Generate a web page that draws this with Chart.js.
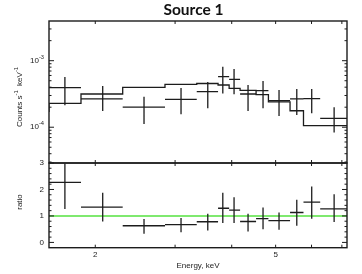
<!DOCTYPE html>
<html>
<head>
<meta charset="utf-8">
<script src="https://cdn.jsdelivr.net/npm/chart.js@4.4.1/dist/chart.umd.min.js"></script>
<style>
  html, body { margin: 0; padding: 0; background: #fff; }
  #wrap { position: relative; width: 362px; height: 274px; overflow: hidden; }
  #wrap canvas { position: absolute; left: 0; }
  #spec { top: 0; }
  #ratio { top: 150px; }
</style>
</head>
<body>
<div id="wrap">
  <canvas id="spec" width="362" height="165"></canvas>
  <canvas id="ratio" width="362" height="124"></canvas>
</div>
<script>
// ── Data ──
const energyEdges   = [1.581, 1.860, 2.299, 2.850, 3.349, 3.732, 3.948, 4.174, 4.527, 4.82, 5.38, 5.76, 6.27, 7.185];
const energyCentres = [1.714, 2.077, 2.562, 3.092, 3.542, 3.823, 4.048, 4.346, 4.69, 5.087, 5.567, 6.006, 6.73];

const countRate   = [3.93e-4, 2.66e-4, 2.0e-4, 2.63e-4, 3.42e-4, 5.75e-4, 5.25e-4, 3.16e-4, 3.55e-4, 2.51e-4, 2.66e-4, 2.69e-4, 1.36e-4];
const countRateHi = [5.68e-4, 4.17e-4, 2.88e-4, 3.89e-4, 4.79e-4, 8.13e-4, 7.5e-4, 4.32e-4, 4.95e-4, 3.63e-4, 3.76e-4, 3.76e-4, 2.0e-4];
const countRateLo = [2.14e-4, 1.76e-4, 1.12e-4, 1.57e-4, 1.93e-4, 3.2e-4, 3.13e-4, 1.76e-4, 1.93e-4, 1.48e-4, 1.53e-4, 1.62e-4, 8.3e-5];
const modelRate   = [1.70e-4, 2.28e-4, 3.16e-4, 3.98e-4, 4.42e-4, 4.54e-4, 4.31e-4, 3.85e-4, 3.57e-4, 3.10e-4, 2.40e-4, 1.77e-4, 1.06e-4];

const ratio   = [2.27, 1.33, 0.63, 0.67, 0.78, 1.29, 1.22, 0.79, 0.90, 0.82, 1.13, 1.52, 1.27];
const ratioHi = [2.98, 1.88, 0.88, 0.92, 1.08, 1.88, 1.71, 1.08, 1.32, 1.13, 1.61, 2.11, 1.82];
const ratioLo = [1.26, 0.79, 0.33, 0.38, 0.45, 0.73, 0.73, 0.41, 0.50, 0.48, 0.63, 0.89, 0.77];
const unityRatio = 1;

// ── Axes ──
const energyRange = [1.581, 7.185];
const rateRange   = [2.9e-5, 3.95e-3];
const ratioRange  = [-0.2, 3];

const energyTicks      = [2, 3, 4, 5, 6, 7];
const energyTickLabels = ['2', '', '', '5', '', ''];
const rateMajorTicks   = [1e-4, 1e-3];
const rateTickLabels   = [['10', '-4'], ['10', '-3']];
const rateMinorTicks   = [3e-5, 4e-5, 5e-5, 6e-5, 7e-5, 8e-5, 9e-5,
                          2e-4, 3e-4, 4e-4, 5e-4, 6e-4, 7e-4, 8e-4, 9e-4, 2e-3, 3e-3];
const ratioMajorTicks  = [0, 1, 2, 3];
const ratioTickLabels  = ['0', '1', '2', '3'];
const ratioMinorTicks  = [0.2, 0.4, 0.6, 0.8, 1.2, 1.4, 1.6, 1.8, 2.2, 2.4, 2.6, 2.8];

const TITLE   = 'Source 1';
const X_TITLE = 'Energy, keV';
const Y_TITLE = [['Counts s'], ['-1', 0, true], ['  keV'], ['-1', 0, true]];
const R_TITLE = 'ratio';

const INK  = '#1c1c1c';
const FONT = '"Liberation Sans", "DejaVu Sans", sans-serif';

// text with optional raised parts: [text, _, isSup]
function drawRich(ctx, parts, x, y, align, size) {
  const supSize = size * 0.72;
  const widths = parts.map(p => {
    ctx.font = (p[2] ? supSize : size) + 'px ' + FONT;
    return ctx.measureText(p[0]).width;
  });
  const total = widths.reduce((s, w) => s + w, 0);
  let cx = align === 'right' ? x - total : align === 'center' ? x - total / 2 : x;
  ctx.textAlign = 'left';
  ctx.textBaseline = 'middle';
  parts.forEach((p, i) => {
    ctx.font = (p[2] ? supSize : size) + 'px ' + FONT;
    ctx.fillText(p[0], cx, p[2] ? y - size * 0.45 : y);
    cx += widths[i];
  });
}

// error crosses, box frame, inward ticks and labels
const axesFrame = {
  id: 'axesFrame',
  afterDatasetsDraw(chart, args, o) {
    const { ctx, chartArea: a } = chart;
    const xs = chart.scales.x, ys = chart.scales.y;

    ctx.save();
    ctx.beginPath();
    ctx.rect(a.left, a.top, a.right - a.left, a.bottom - a.top);
    ctx.clip();
    ctx.strokeStyle = INK;
    ctx.lineWidth = 1.3;
    chart.data.datasets.forEach(ds => {
      if (!ds.errHi) return;
      ctx.beginPath();
      ds.data.forEach((p, i) => {
        const px = xs.getPixelForValue(p.x), py = ys.getPixelForValue(p.y);
        ctx.moveTo(xs.getPixelForValue(ds.binLo[i]), py);
        ctx.lineTo(xs.getPixelForValue(ds.binHi[i]), py);
        ctx.moveTo(px, ys.getPixelForValue(ds.errHi[i]));
        ctx.lineTo(px, ys.getPixelForValue(ds.errLo[i]));
      });
      ctx.stroke();
    });
    ctx.restore();

    ctx.save();
    ctx.strokeStyle = INK;
    ctx.lineWidth = 1.4;
    ctx.strokeRect(a.left, a.top, a.right - a.left, a.bottom - a.top);
    ctx.lineWidth = 1;
    ctx.beginPath();
    o.xTicks.forEach(v => {
      const px = xs.getPixelForValue(v);
      ctx.moveTo(px, a.top); ctx.lineTo(px, a.top + 3);
      ctx.moveTo(px, a.bottom); ctx.lineTo(px, a.bottom - 3);
    });
    const yTick = (v, len) => {
      const py = ys.getPixelForValue(v);
      ctx.moveTo(a.left, py); ctx.lineTo(a.left + len, py);
      ctx.moveTo(a.right, py); ctx.lineTo(a.right - len, py);
    };
    o.yMajor.forEach(v => yTick(v, 5));
    o.yMinor.forEach(v => yTick(v, 2.5));
    ctx.stroke();

    ctx.fillStyle = INK;
    o.yMajor.forEach((v, i) => {
      const lab = o.yLabels[i];
      const parts = Array.isArray(lab) ? [[lab[0]], [lab[1], 0, true]] : [[lab]];
      drawRich(ctx, parts, a.left - 5, ys.getPixelForValue(v), 'right', 8);
    });
    if (o.xLabels) {
      o.xTicks.forEach((v, i) => {
        if (o.xLabels[i]) drawRich(ctx, [[o.xLabels[i]]], xs.getPixelForValue(v), a.bottom + 7.5, 'center', 8);
      });
      drawRich(ctx, [[X_TITLE]], (a.left + a.right) / 2, a.bottom + 18.5, 'center', 8);
    }

    ctx.save();
    ctx.translate(20, o.yTitleY);
    ctx.rotate(-Math.PI / 2);
    drawRich(ctx, o.yTitle, 0, 0, 'center', 8);
    ctx.restore();

    if (o.title) {
      ctx.font = 'bold 15.5px Lato, "Liberation Sans", sans-serif';
      ctx.fillStyle = '#111';
      ctx.textAlign = 'center';
      ctx.textBaseline = 'middle';
      ctx.fillText(o.title, 193.5, 9.5);
    }
    ctx.restore();
  }
};

function baseOptions(padding, yScale, frame) {
  return {
    responsive: false,
    animation: false,
    events: [],
    layout: { padding },
    plugins: { legend: { display: false }, tooltip: { enabled: false }, axesFrame: frame },
    scales: {
      x: { type: 'logarithmic', min: energyRange[0], max: energyRange[1], bounds: 'data', display: false },
      y: Object.assign({ bounds: 'data', display: false }, yScale)
    }
  };
}

// ── Spectrum panel ──
new Chart(document.getElementById('spec'), {
  type: 'scatter',
  data: {
    datasets: [
      {
        type: 'line',
        data: energyEdges.map((e, i) => ({ x: e, y: modelRate[Math.min(i, modelRate.length - 1)] })),
        stepped: 'after',
        borderColor: INK,
        borderWidth: 1.3,
        pointRadius: 0,
        fill: false
      },
      {
        data: energyCentres.map((e, i) => ({ x: e, y: countRate[i] })),
        pointRadius: 0,
        binLo: energyEdges.slice(0, -1),
        binHi: energyEdges.slice(1),
        errLo: countRateLo,
        errHi: countRateHi
      }
    ]
  },
  options: baseOptions(
    { left: 49, right: 15, top: 21, bottom: 2 },
    { type: 'logarithmic', min: rateRange[0], max: rateRange[1] },
    { title: TITLE, xTicks: energyTicks, yMajor: rateMajorTicks, yMinor: rateMinorTicks,
      yLabels: rateTickLabels, yTitle: Y_TITLE, yTitleY: 97 }
  ),
  plugins: [axesFrame]
});

// ── Ratio panel ──
new Chart(document.getElementById('ratio'), {
  type: 'scatter',
  data: {
    datasets: [
      {
        type: 'line',
        data: [{ x: energyRange[0], y: unityRatio }, { x: energyRange[1], y: unityRatio }],
        borderColor: '#55e23f',
        borderWidth: 1.6,
        pointRadius: 0,
        fill: false
      },
      {
        data: energyCentres.map((e, i) => ({ x: e, y: ratio[i] })),
        pointRadius: 0,
        binLo: energyEdges.slice(0, -1),
        binHi: energyEdges.slice(1),
        errLo: ratioLo,
        errHi: ratioHi
      }
    ]
  },
  options: baseOptions(
    { left: 49, right: 15, top: 13, bottom: 26.3 },
    { type: 'linear', min: ratioRange[0], max: ratioRange[1] },
    { xTicks: energyTicks, xLabels: energyTickLabels, yMajor: ratioMajorTicks, yMinor: ratioMinorTicks,
      yLabels: ratioTickLabels, yTitle: [[R_TITLE]], yTitleY: 52 }
  ),
  plugins: [axesFrame]
});
</script>
</body>
</html>
